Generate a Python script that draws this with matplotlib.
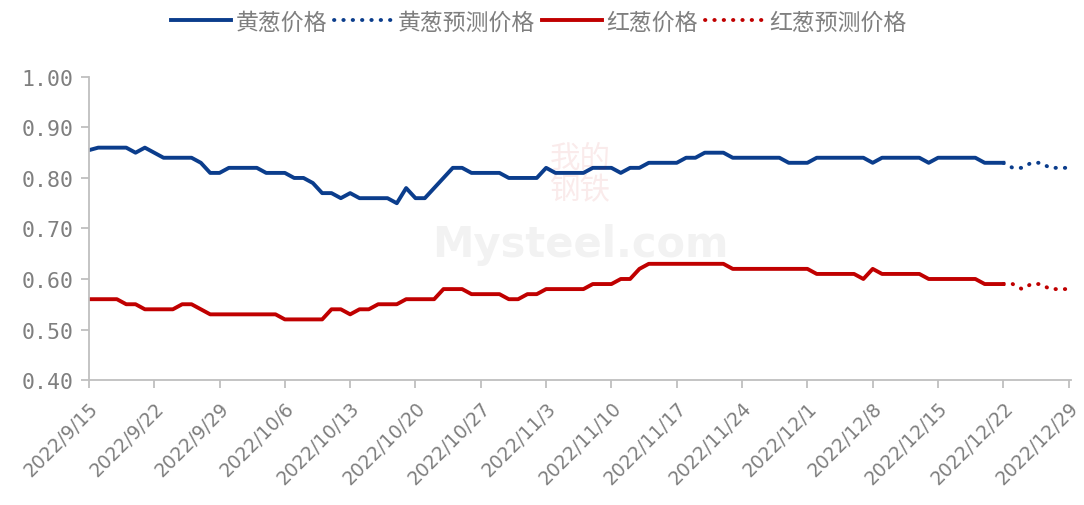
import pandas as pd
import matplotlib
matplotlib.use('Agg')
import matplotlib.pyplot as plt

plt.rcParams['font.family'] = ['Noto Sans CJK SC', 'DejaVu Sans']

# 日度价格 2022/9/15 - 2022/12/22
yellow_price = [
    0.855, 0.86, 0.86, 0.86, 0.86, 0.85, 0.86,
    0.85, 0.84, 0.84, 0.84, 0.84, 0.83, 0.81,
    0.81, 0.82, 0.82, 0.82, 0.82, 0.81, 0.81,
    0.81, 0.80, 0.80, 0.79, 0.77, 0.77, 0.76,
    0.77, 0.76, 0.76, 0.76, 0.76, 0.75, 0.78,
    0.76, 0.76, 0.78, 0.80, 0.82, 0.82, 0.81,
    0.81, 0.81, 0.81, 0.80, 0.80, 0.80, 0.80,
    0.82, 0.81, 0.81, 0.81, 0.81, 0.82, 0.82,
    0.82, 0.81, 0.82, 0.82, 0.83, 0.83, 0.83,
    0.83, 0.84, 0.84, 0.85, 0.85, 0.85, 0.84,
    0.84, 0.84, 0.84, 0.84, 0.84, 0.83, 0.83,
    0.83, 0.84, 0.84, 0.84, 0.84, 0.84, 0.84,
    0.83, 0.84, 0.84, 0.84, 0.84, 0.84, 0.83,
    0.84, 0.84, 0.84, 0.84, 0.84, 0.83, 0.83,
    0.83,
]
red_price = [
    0.56, 0.56, 0.56, 0.56, 0.55, 0.55, 0.54,
    0.54, 0.54, 0.54, 0.55, 0.55, 0.54, 0.53,
    0.53, 0.53, 0.53, 0.53, 0.53, 0.53, 0.53,
    0.52, 0.52, 0.52, 0.52, 0.52, 0.54, 0.54,
    0.53, 0.54, 0.54, 0.55, 0.55, 0.55, 0.56,
    0.56, 0.56, 0.56, 0.58, 0.58, 0.58, 0.57,
    0.57, 0.57, 0.57, 0.56, 0.56, 0.57, 0.57,
    0.58, 0.58, 0.58, 0.58, 0.58, 0.59, 0.59,
    0.59, 0.60, 0.60, 0.62, 0.63, 0.63, 0.63,
    0.63, 0.63, 0.63, 0.63, 0.63, 0.63, 0.62,
    0.62, 0.62, 0.62, 0.62, 0.62, 0.62, 0.62,
    0.62, 0.61, 0.61, 0.61, 0.61, 0.61, 0.60,
    0.62, 0.61, 0.61, 0.61, 0.61, 0.61, 0.60,
    0.60, 0.60, 0.60, 0.60, 0.60, 0.59, 0.59,
    0.59,
]
# 预测 2022/12/22 - 2022/12/29
yellow_fc = [0.83, 0.82, 0.82, 0.83, 0.83, 0.82, 0.82, 0.82]
red_fc = [0.59, 0.59, 0.58, 0.59, 0.59, 0.58, 0.58, 0.58]

tick_labels = ['2022/9/15', '2022/9/22', '2022/9/29', '2022/10/6', '2022/10/13',
               '2022/10/20', '2022/10/27', '2022/11/3', '2022/11/10', '2022/11/17',
               '2022/11/24', '2022/12/1', '2022/12/8', '2022/12/15', '2022/12/22',
               '2022/12/29']
y_ticks = [0.40, 0.50, 0.60, 0.70, 0.80, 0.90, 1.00]

dates = pd.date_range('2022-09-15', periods=len(yellow_price))
fc_dates = pd.date_range('2022-12-22', periods=len(yellow_fc))
tick_dates = pd.date_range('2022-09-15', periods=len(tick_labels), freq='7D')

blue = '#0b3d8c'
red = '#c00000'
gray = '#7f7f7f'
dot = (0, (0.1, 2.3))

fig = plt.figure(figsize=(10.84, 5.06), dpi=100)
ax = fig.add_axes([0.082, 0.247, 0.906, 0.599])

ax.plot(dates, yellow_price, color=blue, lw=2.8, label='黄葱价格')
ax.plot(fc_dates, yellow_fc, color=blue, lw=2.8, ls=dot, dash_capstyle='round', label='黄葱预测价格')
ax.plot(dates, red_price, color=red, lw=2.8, label='红葱价格')
ax.plot(fc_dates, red_fc, color=red, lw=2.8, ls=dot, dash_capstyle='round', label='红葱预测价格')

# 水印
ax.text(0.5, 0.45, 'Mysteel.com', transform=ax.transAxes, ha='center', va='center',
        fontsize=30, fontweight='bold', color='#000000', alpha=0.05, family='DejaVu Sans')
ax.text(0.5, 0.68, '我的\n钢铁', transform=ax.transAxes, ha='center', va='center',
        fontsize=22, color='#c00000', alpha=0.08, linespacing=1.0)

ax.set_xlim(tick_dates[0], tick_dates[-1] + pd.Timedelta(hours=6))
ax.set_ylim(0.40, 1.00)
ax.set_yticks(y_ticks)
ax.set_yticklabels(['%.2f' % v for v in y_ticks], family='DejaVu Sans Mono', fontsize=15.5, color=gray)
ax.set_xticks(tick_dates)
ax.set_xticklabels(tick_labels, rotation=45, ha='right', rotation_mode='anchor',
                   fontsize=13.5, color=gray, family='DejaVu Sans')

for s in ['top', 'right']:
    ax.spines[s].set_visible(False)
for s in ['left', 'bottom']:
    ax.spines[s].set_color('#bfbfbf')
    ax.spines[s].set_linewidth(1.3)
ax.tick_params(axis='both', color='#bfbfbf', width=1.3, length=6, direction='out')
ax.tick_params(axis='x', pad=7)
ax.tick_params(axis='y', pad=5)

fig.legend(loc='upper center', bbox_to_anchor=(0.497, 1.018), ncol=4, frameon=False,
           fontsize=16.5, labelcolor=gray, handlelength=2.6, handletextpad=0.2,
           columnspacing=0.3)

fig.savefig('out.png', dpi=100)
